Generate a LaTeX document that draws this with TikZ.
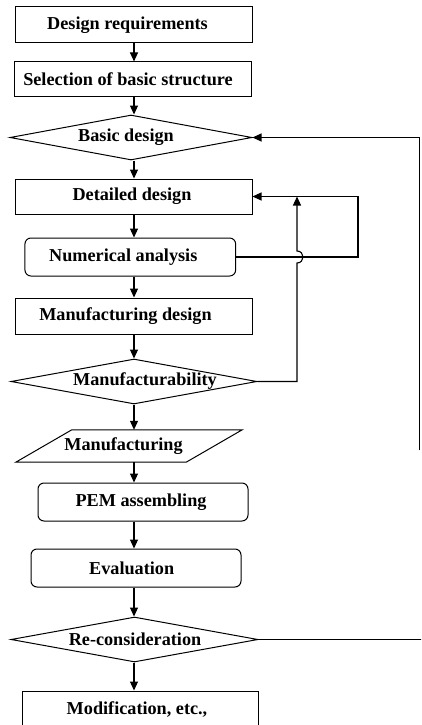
\documentclass[tikz,border=0pt]{standalone}
\usepackage{fontspec}
\setmainfont{Liberation Serif}
\usetikzlibrary{arrows.meta,shapes.geometric,calc}
\tikzset{
  every node/.style={font=\fontsize{18.2}{21}\selectfont\bfseries},
  box/.style={draw, line width=1pt, rectangle, inner sep=0pt},
  rbox/.style={box, rounded corners=6pt},
  dia/.style={draw, line width=1pt, diamond, aspect=5.4, inner sep=0pt},
  pbox/.style={rectangle, inner sep=0pt},
  conn/.style={line width=1.1pt, -{Triangle[length=9pt,width=8pt]}},
  line/.style={line width=1.1pt},
}
\begin{document}
\begin{tikzpicture}[x=1pt,y=-1pt]
\useasboundingbox (0,0) rectangle (421,725);
\clip (0,0) rectangle (421,725);
\coordinate (colx) at (134,0);
\coordinate (fbA) at (358,0);
\coordinate (fbB) at (297,0);
\coordinate (fbC) at (419.5,0);
\coordinate (edge) at (425,0);
\coordinate (fadeend) at (419.5,450);

\node[box, minimum width=237pt, minimum height=35.5pt] (dr) at (133.5,24.75) {\hspace*{-12pt}Design requirements};
\node[box, minimum width=237pt, minimum height=34.7pt] (sel) at (132.5,79.3) {\hspace*{-9pt}Selection of basic structure};
\node[dia, minimum width=242pt, minimum height=45pt, label={[xshift=-5pt]center:Basic design}] (bd) at (131,137.5) {};
\node[box, minimum width=237pt, minimum height=35pt] (dd) at (133.5,196.5) {\hspace*{-3pt}Detailed design};
\node[rbox, minimum width=210.7pt, minimum height=38pt] (na) at (130.3,257) {\hspace*{-14pt}Numerical analysis};
\node[box, minimum width=237pt, minimum height=36pt] (md) at (133.5,316) {\hspace*{-16pt}Manufacturing design};
\node[dia, minimum width=246pt, minimum height=45pt, label={[xshift=11pt]center:Manufacturability}] (mfab) at (134,381.5) {};
\node[pbox, minimum width=226pt, minimum height=32pt] (mfg) at (129,446) {\hspace*{-11pt}Manufacturing};
\draw[line width=1pt] ($(mfg.north west)+(56,0)$) -- (mfg.north east) -- ($(mfg.south east)+(-56,0)$) -- (mfg.south west) -- cycle;
\node[rbox, minimum width=210pt, minimum height=38pt] (pem) at (143,502) {\hspace*{-4pt}PEM assembling};
\node[rbox, minimum width=210pt, minimum height=38pt] (ev) at (136,568) {\hspace*{-8.6pt}Evaluation};
\node[dia, minimum width=247pt, minimum height=45pt, label={[xshift=0.5pt]center:Re-consideration}] (re) at (134.5,639.5) {};
\node[box, minimum width=236pt, minimum height=36pt] (mod) at (140,709) {\hspace*{-6pt}Modification, etc.,};

\draw[conn] (dr.south -| colx) -- (sel.north -| colx);
\draw[conn] (sel.south -| colx) -- (bd.north -| colx);
\draw[conn] (bd.south -| colx) -- (dd.north -| colx);
\draw[conn] (dd.south -| colx) -- (na.north -| colx);
\draw[conn] (na.south -| colx) -- (md.north -| colx);
\draw[conn] (md.south -| colx) -- (mfab.north -| colx);
\draw[conn] (mfab.south -| colx) -- (mfg.north -| colx);
\draw[conn] (mfg.south -| colx) -- (pem.north -| colx);
\draw[conn] (pem.south -| colx) -- (ev.north -| colx);
\draw[conn] (ev.south -| colx) -- (re.north -| colx);
\draw[conn] (re.south -| colx) -- (mod.north -| colx);

\draw[conn] (na.east) -| (fbA |- dd.east) -- (dd.east);
\draw[conn] (mfab.east) -| ($(fbB |- na.east)+(0,6)$) .. controls +(8,0) and +(8,0) .. ($(fbB |- na.east)+(0,-6)$) -- (fbB |- dd.east);
\draw[conn] (fadeend) -- (fbC |- bd.east) -- (bd.east);
\draw[line] (re.east) -- (edge |- re.east);
\end{tikzpicture}
\end{document}
